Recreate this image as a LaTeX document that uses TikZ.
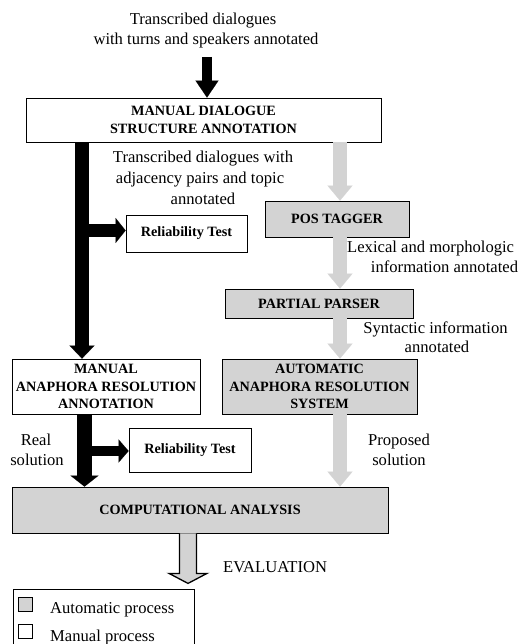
\documentclass[tikz,border=0pt]{standalone}
\usepackage{fontspec}
\setmainfont{Liberation Serif}
\usetikzlibrary{arrows.meta,calc}
\definecolor{autogray}{RGB}{211,211,211}
\begin{document}
\begin{tikzpicture}[x=1pt,y=-1pt,
  box/.style={draw=black,line width=0.8pt,fill=white,align=center,inner sep=0pt,
    font=\bfseries\fontsize{14.2}{17.5}\selectfont},
  autobox/.style={box,fill=autogray},
  txt/.style={inner sep=0pt,anchor=base,font=\fontsize{16.6}{20.5}\selectfont},
  txtw/.style={txt,anchor=base west},
  blkarrow/.style n args={3}{draw=black,line width=#1,
    -{Triangle[width=#2,length=#3,line width=0.1pt]}},
  grayarrow/.style={draw=autogray,line width=14pt,
    -{Triangle[width=25pt,length=15pt,line width=0.1pt]}},
  evalarrow/.style={draw=black,line width=1.3pt,fill=autogray,line join=miter},
  legsq/.style={draw=black,line width=0.8pt,minimum size=14pt,inner sep=0pt}
]
\useasboundingbox (0,0) rectangle (531,644);

% texts
\node[txt] (t1a) at (203,25) {Transcribed dialogues};
\node[txt] (t1b) at (206,45) {with turns and speakers annotated};
\node[txt] (t2a) at (203,163) {Transcribed dialogues with};
\node[txt] (t2b) at (200,184) {adjacency pairs and topic};
\node[txt] (t2c) at (203,204.5) {annotated};
\node[txtw] (t3a) at (347,252) {Lexical and morphologic};
\node[txt] (t3b) at (444.5,272) {information annotated};
\node[txt] (t4a) at (435.5,333) {Syntactic information};
\node[txt] (t4b) at (437,352) {annotated};
\node[txt] (t5a) at (36,445) {Real};
\node[txt] (t5b) at (37,465) {solution};
\node[txt] (t6a) at (399,445) {Proposed};
\node[txt] (t6b) at (399,465) {solution};
\node[txtw] (t7) at (223,572.5) {EVALUATION};

% boxes
\node[box,minimum width=355pt,minimum height=44pt] (msa) at (203.5,120)
  {MANUAL DIALOGUE\\STRUCTURE ANNOTATION};
\node[autobox,minimum width=144pt,minimum height=36pt] (pos) at (337,219) {POS TAGGER};
\node[box,minimum width=121pt,minimum height=37pt] (rel1) at (186.5,233.5) {Reliability Test};
\node[autobox,minimum width=188pt,minimum height=29pt] (pp) at (319,303.5) {PARTIAL PARSER};
\node[box,minimum width=188pt,minimum height=55pt] (maa) at (106,386.5)
  {MANUAL\\ANAPHORA RESOLUTION\\ANNOTATION};
\node[autobox,minimum width=195pt,minimum height=55pt] (aars) at (319.5,386.5)
  {AUTOMATIC\\ANAPHORA RESOLUTION\\SYSTEM};
\node[box,minimum width=122pt,minimum height=44pt] (rel2) at (190,450) {Reliability Test};
\node[autobox,minimum width=376pt,minimum height=46pt] (comp) at (200,510) {COMPUTATIONAL ANALYSIS};

% legend
\node[draw=black,line width=0.8pt,minimum width=181pt,minimum height=70pt,anchor=north west,inner sep=0pt] (leg) at (13,589) {};
\node[legsq,fill=autogray] (sqa) at (25.5,604) {};
\node[legsq,fill=white] (sqm) at (25.5,631.5) {};
\node[txtw] (la) at (50,613) {Automatic process};
\node[txtw] (lm) at (50,641) {Manual process};

% arrow helper coordinates
\coordinate (xin) at (207,57);
\coordinate (xl1) at (82,0);
\coordinate (xl2) at (84.5,0);
\coordinate (xg) at (340,0);
\coordinate (xev) at (188,0);

% black arrows
\draw[blkarrow={10pt}{23pt}{17pt}] (xin) -- (xin |- msa.north);
\draw[blkarrow={14pt}{25pt}{13pt}] (msa.south -| xl1) -- (maa.north -| xl1);
\draw[blkarrow={13pt}{25pt}{10pt}] ($(rel1.west -| xl1)+(0,-3)$) -- ($(rel1.west)+(0,-3)$);
\draw[blkarrow={15pt}{28pt}{11pt}] (maa.south -| xl2) -- (comp.north -| xl2);
\draw[blkarrow={10pt}{23pt}{10pt}] ($(rel2.west -| xl2)+(0,1)$) -- ($(rel2.west)+(0,1)$);

% gray arrows
\draw[grayarrow] (msa.south -| xg) -- (pos.north -| xg);
\draw[grayarrow] (pos.south -| xg) -- (pp.north -| xg);
\draw[grayarrow] (pp.south -| xg) -- (aars.north -| xg);
\draw[grayarrow] (aars.south -| xg) -- (comp.north -| xg);

% evaluation arrow
\coordinate (ev) at (comp.south -| xev);
\draw[evalarrow] ($(ev)+(-8.5,0)$) -- ($(ev)+(-8.5,40)$) -- ($(ev)+(-19,40)$)
  -- ($(ev)+(0,50)$) -- ($(ev)+(19,40)$) -- ($(ev)+(8.5,40)$) -- ($(ev)+(8.5,0)$);
\end{tikzpicture}
\end{document}
